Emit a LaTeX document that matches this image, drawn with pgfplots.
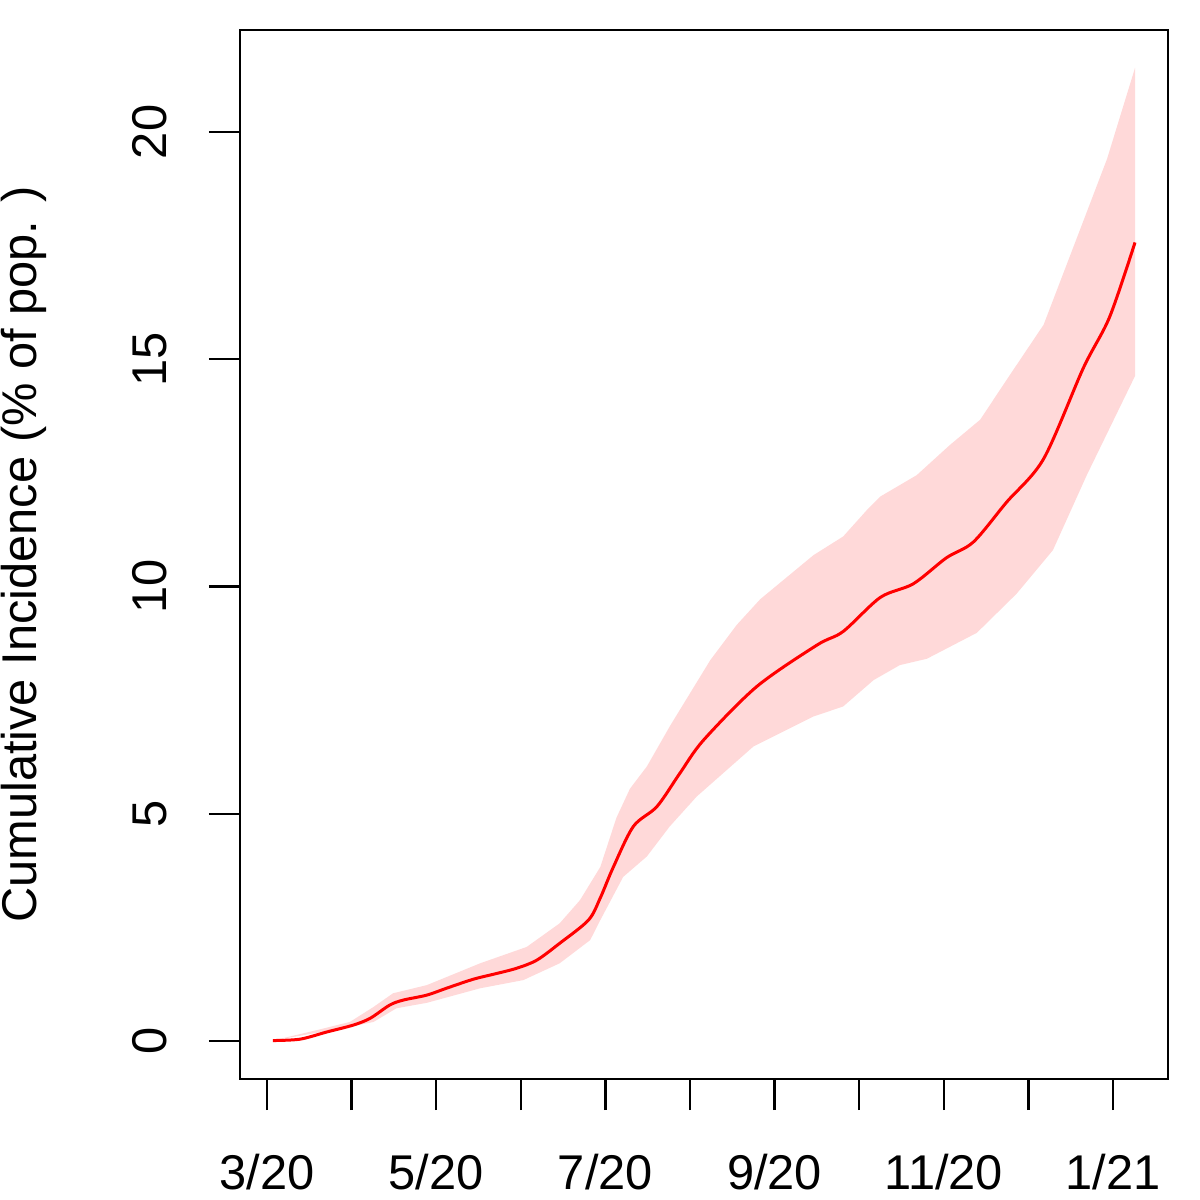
\documentclass[border=0pt]{standalone}
\usepackage{pgfplots}
\pgfplotsset{compat=1.18}
\usepackage{fontspec}
\setmainfont{Liberation Sans}
\definecolor{bandcol}{RGB}{255,217,217}
\begin{document}
\begin{tikzpicture}
\begin{axis}[
  scale only axis,
  width=464pt, height=524.5pt,
  xmin=-0.319, xmax=10.650,
  ymin=-0.836, ymax=22.244,
  axis line style={line width=1.25pt},
  xtick={0,1,2,3,4,5,6,7,8,9,10},
  xticklabels={3/20,,5/20,,7/20,,9/20,,11/20,,1/21},
  ytick={0,5,10,15,20},
  tick align=outside,
  xtick pos=bottom, ytick pos=left,
  major tick length=15.5pt,
  every tick/.style={line width=1.25pt, black},
  /pgf/number format/assume math mode=true,
  xticklabel style={font=\fontsize{24.4}{29}\selectfont, anchor=center, inner sep=0pt, yshift=-31pt},
  yticklabel style={font=\fontsize{24.4}{29}\selectfont, inner sep=0pt, xshift=-29.5pt, rotate=90, anchor=center},
  every axis y label/.style={at={(rel axis cs:0,0.5)}, xshift=-108pt, rotate=90, anchor=center, inner sep=0pt, font=\fontsize{24.4}{29}\selectfont},
  ylabel={Cumulative Incidence (\% of pop. )},
  clip=false,
]
% uncertainty band: upper edge left to right, lower edge right to left
\addplot[fill=bandcol, draw=none] coordinates {
(0.07,0.01) (0.59,0.24) (0.98,0.42) (1.26,0.75) (1.49,1.05) (1.89,1.23)
(2.52,1.71) (3.07,2.07) (3.46,2.59) (3.70,3.10) (3.94,3.83) (4.13,4.91)
(4.29,5.55) (4.49,6.04) (4.76,6.92) (5.24,8.38) (5.55,9.15) (5.83,9.72) (6.46,10.69)
(6.81,11.10) (7.09,11.68) (7.25,11.98) (7.68,12.45) (8.07,13.11) (8.43,13.67)
(8.74,14.54) (9.18,15.76) (9.61,17.85) (9.93,19.41) (10.26,21.41)
(10.26,14.63) (9.69,12.45) (9.29,10.80) (8.86,9.84) (8.39,8.98) (7.80,8.41)
(7.48,8.27) (7.17,7.94) (6.81,7.36) (6.46,7.14) (5.75,6.48) (5.08,5.38)
(4.76,4.72) (4.49,4.06) (4.21,3.61) (3.94,2.66) (3.82,2.22) (3.46,1.71)
(3.03,1.34) (2.52,1.16) (1.89,0.84) (1.53,0.72) (1.26,0.42) (0.98,0.31)
(0.07,0.01)
} -- cycle;
% median
\addplot[red, line width=1.5pt, smooth, tension=0.5] coordinates {
(0.07,0.01) (0.39,0.04) (0.71,0.20) (1.02,0.35) (1.22,0.50) (1.45,0.79)
(1.61,0.90) (1.89,1.01) (2.12,1.16) (2.44,1.36) (2.68,1.47) (2.95,1.60)
(3.19,1.78) (3.46,2.15) (3.80,2.66) (3.94,3.15) (4.09,3.81) (4.33,4.72)
(4.61,5.16) (4.88,5.89) (5.16,6.62) (5.79,7.80) (6.50,8.71) (6.81,9.01)
(7.25,9.76) (7.64,10.06) (8.03,10.63) (8.35,10.98) (8.74,11.85) (9.18,12.81)
(9.65,14.81) (9.96,15.93) (10.26,17.57)
};
\end{axis}
\pgfresetboundingbox
\path[use as bounding box] (current axis.south west) ++(-120pt,-60.5pt) rectangle ++(600pt,600pt);
\end{tikzpicture}
\end{document}
